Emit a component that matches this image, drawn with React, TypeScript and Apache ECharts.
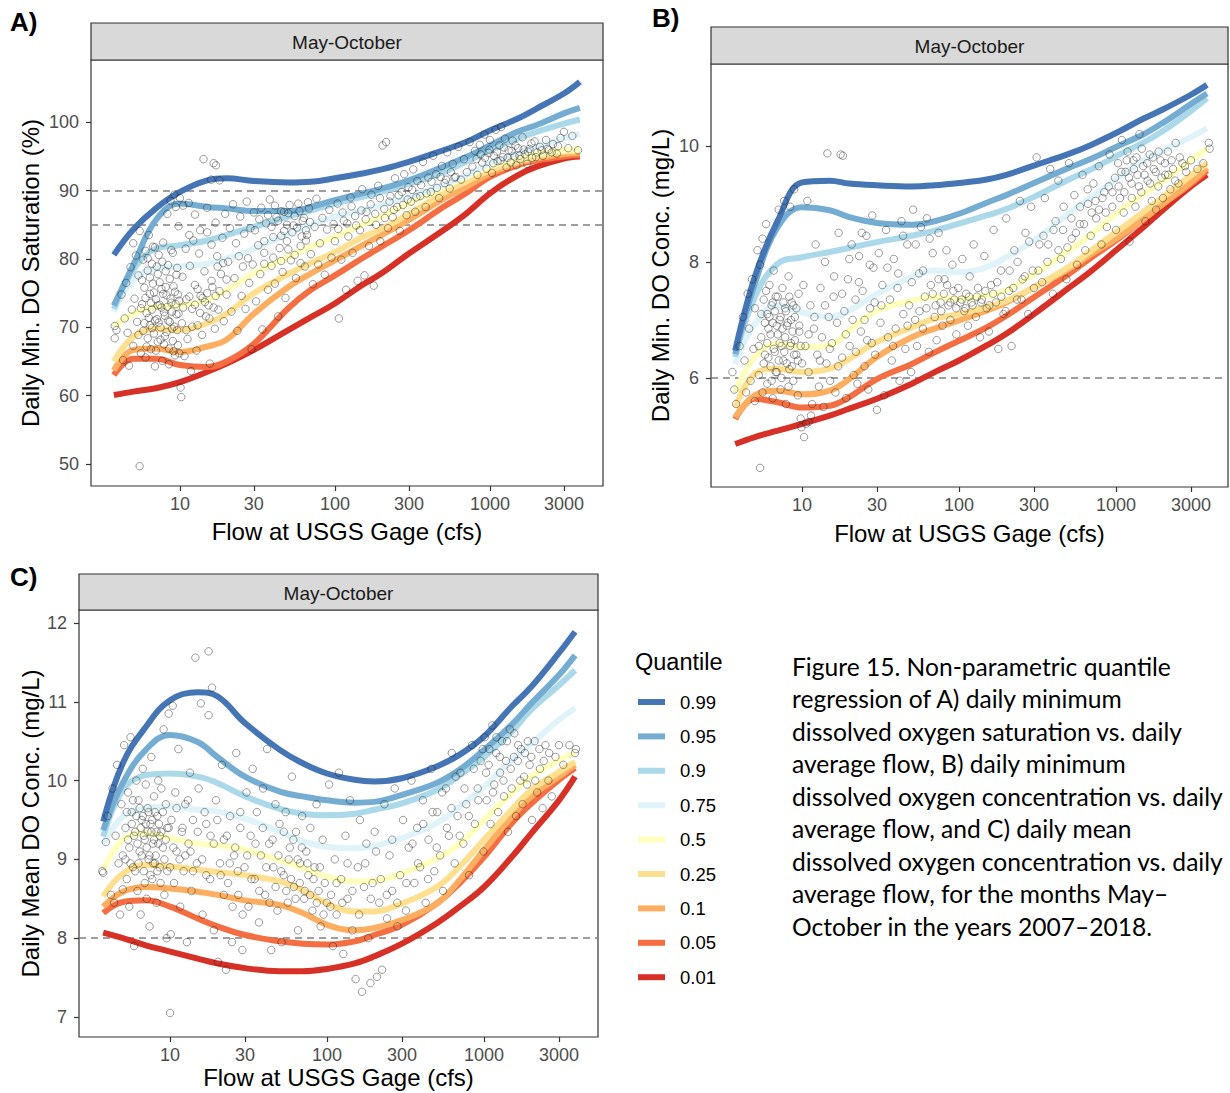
import React, { useEffect, useRef } from 'react';
import * as echarts from 'echarts';

// ---------- data ----------
const FLOW_GRID = [3.75, 5, 7, 10, 15, 20, 30, 50, 70, 100, 150, 200, 300, 500, 700, 1000, 1500, 2000, 3000, 3800];
const QUANTILES = ['0.99', '0.95', '0.9', '0.75', '0.5', '0.25', '0.1', '0.05', '0.01'];
const QUANTILE_COLORS = ['#4575b4', '#74add1', '#abd9e9', '#e0f3f8', '#ffffbf', '#fee090', '#fdae61', '#f46d43', '#d73027'];
const X_TICKS = [10, 30, 100, 300, 1000, 3000];

// Panel A: daily min DO saturation (%)
const A_Q99 = [80.6, 84.3, 87.4, 89.8, 91.5, 91.8, 91.4, 91.2, 91.3, 91.8, 92.5, 93.1, 94.2, 95.9, 97.1, 98.8, 100.5, 102.0, 104.2, 105.9];
const A_Q95 = [73.2, 79.1, 85.7, 88.1, 87.6, 87.4, 87.0, 87.0, 87.6, 88.6, 89.6, 90.3, 91.5, 93.5, 94.9, 96.6, 98.6, 99.6, 101.3, 102.1];
const A_Q90 = [72.7, 78.4, 81.5, 82.0, 82.7, 83.5, 84.7, 86.2, 87.1, 88.1, 89.1, 89.8, 91.0, 92.7, 94.2, 95.9, 97.6, 98.6, 99.8, 100.4];
const A_Q75 = [72.3, 76.9, 78.6, 78.9, 79.3, 80.1, 81.5, 83.7, 85.0, 86.2, 87.1, 87.9, 89.1, 90.8, 92.2, 94.0, 95.4, 96.4, 97.6, 98.3];
const A_Q50 = [70.1, 72.0, 73.0, 73.2, 74.0, 75.4, 77.9, 80.3, 81.8, 83.2, 85.0, 86.2, 88.1, 90.5, 92.0, 93.5, 94.7, 95.4, 95.9, 96.0];
const A_Q25 = [65.0, 68.6, 69.8, 69.6, 70.6, 72.0, 75.0, 77.8, 79.4, 81.0, 83.2, 84.4, 86.6, 89.6, 91.3, 93.0, 94.2, 94.9, 95.7, 95.8];
const A_Q10 = [63.7, 66.7, 66.9, 66.4, 67.2, 68.2, 72.0, 75.9, 77.9, 79.8, 82.0, 83.5, 85.7, 88.8, 90.5, 92.5, 94.0, 94.7, 95.3, 95.5];
const A_Q05 = [63.0, 65.4, 65.4, 64.5, 64.2, 65.0, 67.6, 72.8, 75.5, 77.6, 80.1, 81.8, 84.2, 87.6, 89.6, 92.0, 93.7, 94.4, 95.0, 95.2];
const A_Q01 = [60.1, 60.6, 61.1, 62.0, 63.5, 64.7, 66.7, 69.6, 71.5, 73.5, 76.2, 77.9, 80.8, 84.2, 86.6, 89.6, 92.2, 93.5, 94.7, 95.0];

// Panel B: daily min DO concentration (mg/L)
const B_Q99 = [6.47, 7.74, 8.71, 9.37, 9.40, 9.35, 9.32, 9.30, 9.32, 9.36, 9.42, 9.50, 9.66, 9.86, 10.02, 10.22, 10.47, 10.63, 10.88, 11.05];
const B_Q95 = [6.41, 7.62, 8.60, 8.94, 8.89, 8.77, 8.67, 8.64, 8.70, 8.83, 9.02, 9.15, 9.36, 9.62, 9.78, 9.98, 10.2, 10.4, 10.72, 10.9];
const B_Q90 = [6.36, 7.39, 7.97, 8.08, 8.17, 8.24, 8.34, 8.45, 8.54, 8.66, 8.80, 8.91, 9.12, 9.42, 9.60, 9.82, 10.06, 10.26, 10.6, 10.82];
const B_Q75 = [6.24, 6.93, 7.25, 7.13, 7.05, 7.16, 7.45, 7.74, 7.85, 7.82, 7.91, 8.08, 8.37, 8.83, 9.12, 9.43, 9.75, 9.92, 10.15, 10.3];
const B_Q50 = [5.75, 6.36, 6.59, 6.53, 6.56, 6.82, 7.16, 7.33, 7.39, 7.36, 7.42, 7.51, 7.79, 8.20, 8.48, 8.83, 9.17, 9.40, 9.75, 9.95];
const B_Q25 = [5.49, 6.07, 6.16, 6.10, 6.16, 6.33, 6.62, 6.87, 7.02, 7.10, 7.22, 7.33, 7.56, 7.91, 8.20, 8.51, 8.86, 9.12, 9.49, 9.7];
const B_Q10 = [5.32, 5.70, 5.78, 5.72, 5.78, 5.98, 6.36, 6.70, 6.85, 6.99, 7.16, 7.30, 7.56, 7.88, 8.14, 8.40, 8.74, 9.00, 9.37, 9.62];
const B_Q05 = [5.29, 5.64, 5.58, 5.49, 5.52, 5.67, 5.98, 6.24, 6.44, 6.64, 6.87, 7.07, 7.39, 7.79, 8.08, 8.37, 8.74, 9.00, 9.34, 9.58];
const B_Q01 = [4.86, 4.98, 5.09, 5.21, 5.35, 5.47, 5.64, 5.90, 6.10, 6.30, 6.56, 6.76, 7.10, 7.55, 7.85, 8.2, 8.6, 8.9, 9.3, 9.5];

// Panel C: daily mean DO concentration (mg/L)
const C_Q99 = [9.48, 10.22, 10.68, 11.02, 11.12, 11.07, 10.73, 10.39, 10.22, 10.09, 10.01, 9.99, 10.03, 10.18, 10.33, 10.56, 10.94, 11.19, 11.62, 11.89];
const C_Q95 = [9.37, 9.97, 10.39, 10.58, 10.49, 10.30, 10.05, 9.86, 9.80, 9.75, 9.72, 9.73, 9.82, 9.97, 10.14, 10.39, 10.71, 10.98, 11.34, 11.59];
const C_Q90 = [9.29, 9.88, 10.07, 10.09, 10.05, 9.97, 9.80, 9.64, 9.58, 9.56, 9.58, 9.63, 9.71, 9.88, 10.07, 10.30, 10.62, 10.90, 11.21, 11.40];
const C_Q75 = [9.20, 9.54, 9.65, 9.67, 9.63, 9.61, 9.52, 9.35, 9.23, 9.16, 9.14, 9.17, 9.27, 9.46, 9.67, 9.92, 10.26, 10.47, 10.77, 10.92];
const C_Q50 = [8.87, 9.25, 9.33, 9.27, 9.20, 9.18, 9.12, 8.99, 8.89, 8.78, 8.72, 8.73, 8.82, 9.01, 9.20, 9.50, 9.84, 10.05, 10.26, 10.35];
const C_Q25 = [8.53, 8.82, 8.93, 8.91, 8.87, 8.84, 8.80, 8.72, 8.61, 8.44, 8.34, 8.34, 8.44, 8.65, 8.91, 9.25, 9.63, 9.88, 10.11, 10.24];
const C_Q10 = [8.40, 8.59, 8.65, 8.63, 8.59, 8.55, 8.48, 8.42, 8.32, 8.17, 8.10, 8.13, 8.23, 8.44, 8.74, 9.12, 9.54, 9.80, 10.05, 10.20];
const C_Q05 = [8.32, 8.46, 8.48, 8.40, 8.25, 8.15, 8.04, 7.96, 7.93, 7.92, 7.96, 8.04, 8.17, 8.44, 8.70, 9.03, 9.46, 9.71, 10.01, 10.16];
const C_Q01 = [8.07, 8.00, 7.91, 7.83, 7.74, 7.68, 7.62, 7.58, 7.58, 7.61, 7.68, 7.77, 7.93, 8.19, 8.40, 8.65, 9.03, 9.33, 9.75, 10.05];

// Observations [flow cfs, value]
const A_POINTS = [
  [3.8,70.2],[3.8,68.4],[3.9,69.6],[4.2,74.8],[4.3,65.2],[4.4,71.3],[4.5,76.5],[4.6,69.2],[4.7,64.4],[4.8,78.8],[4.9,72.6],[5.0,67.3],[5.0,82.3],[5.1,74.2],[5.2,80.5],
  [5.3,70.8],[5.4,77.6],[5.5,49.7],[5.5,84.1],[5.6,66.2],[5.7,73.4],[5.8,79.9],[5.8,69.5],[5.9,75.8],[6.0,81.2],[6.0,65.6],[6.1,72.1],[6.2,78.3],[6.2,68.4],[6.3,83.5],[6.4,74.9],[6.4,70.3],[6.5,66.8],[6.6,79.3],[6.6,72.6],[6.7,76.4],[6.8,69.1],[6.9,81.7],[6.9,64.3],[7.0,74.1],[7.1,71.2],[7.2,77.8],[7.2,67.9],[7.3,80.6],[7.4,73.3],[7.5,70.0],[7.6,75.6],[7.7,65.1],[7.8,82.4],[7.9,72.2],[8.0,68.7],[8.1,78.2],[8.2,74.7],[8.3,86.6],[8.4,71.0],[8.5,64.6],[8.6,77.1],[8.7,88.5],[8.8,73.6],[8.9,69.8],[9.0,80.9],[9.1,66.5],[9.2,89.4],[9.3,75.2],[9.4,87.6],[9.5,71.9],[9.6,78.7],[9.7,67.4],[9.8,84.8],[9.9,73.9],[10.0,88.9],
  [10.1,61.2],[10.2,59.8],[10.3,70.6],[10.4,77.4],[10.5,87.8],[10.7,65.8],[10.9,81.5],[11.0,74.1],[11.2,68.3],[11.4,88.2],[11.6,79.0],[11.8,63.6],[12.0,72.7],[12.2,82.7],[12.5,76.2],[12.8,66.6],[13.0,70.3],[13.3,80.8],[13.6,74.6],[13.9,68.9],[14.2,94.6],[14.4,78.2],[14.7,71.6],[15.0,83.9],[15.3,73.2],[15.6,64.7],[15.9,91.6],[16.2,75.9],[16.5,94.0],[16.8,69.8],[17.1,93.7],[17.4,80.4],[17.7,72.6],[18.0,91.5],[18.4,77.8],[18.8,83.1],[19.2,70.9],[19.6,86.6],[20.0,74.8],
  [20.5,79.6],[21,84.5],[21.5,72.3],[22,88.0],[22.5,77.2],[23,82.3],[23.5,69.5],[24,80.4],[24.5,86.2],[25,74.6],[25.5,78.9],[26,83.7],[26.5,72.7],[27,88.4],[27.5,80.1],[28,76.5],[28.5,84.5],[29,66.8],[29.5,79.2],[30,86.8],[31,73.8],[32,82.0],[33,77.8],[33.5,87.5],[34,69.7],[35,80.9],[36,85.2],[37,75.5],[38,88.7],[39,79.0],[40,83.2],[41,76.4],[42,86.1],[43,71.6],[44,81.6],[45,87.0],[46,78.1],[47,84.1],[48,74.3],[49,82.6],
  [50,86.7],[52,79.8],[54,84.9],[56,77.2],[58,88.1],[60,81.9],[62,85.6],[64,78.9],[66,83.5],[68,87.4],[70,80.7],[72,76.3],[74,84.7],[76,88.8],[78,79.2],[80,82.3],[83,86.0],[86,77.7],[89,84.3],[92,87.2],[95,80.2],[98,85.1],
  [100,82.6],[104,88.1],[106,71.3],[110,79.9],[114,85.6],[118,75.5],[122,83.3],[126,89.0],[130,80.9],[135,86.3],[140,76.8],[145,84.2],[150,90.2],[155,77.6],[160,86.9],[166,81.9],[172,89.4],[178,76.1],[184,85.0],[190,90.7],[196,82.6],[203,96.6],[208,87.3],[214,97.1],[220,84.5],[228,89.2],[236,86.1],[244,91.8],[252,87.6],[262,84.1],[270,89.8],[280,92.4],[290,86.4],[298,90.5],
  [310,88.4],[320,93.1],[330,86.9],[340,91.4],[355,89.2],[370,94.2],[385,87.6],[400,91.9],[415,89.8],[430,95.1],[450,92.4],[470,88.9],[490,93.6],[510,91.1],[530,95.6],[550,90.3],[575,93.9],[600,92.0],[625,96.4],[650,91.6],[680,94.6],[710,92.7],[740,97.1],[770,93.5],[800,95.8],[830,92.3],[860,96.7],[890,94.1],[920,98.2],[950,93.2],[980,95.5],
  [1000,97.4],[1030,92.6],[1060,95.1],[1090,98.9],[1120,94.3],[1150,96.6],[1180,99.3],[1210,94.9],[1250,97.6],[1280,93.4],[1320,95.9],[1360,94.1],[1400,97.3],[1440,95.0],[1480,93.7],[1520,96.2],[1570,94.6],[1620,97.8],[1680,95.3],[1740,93.9],[1800,96.1],[1870,94.8],[1940,97.2],[2020,95.6],[2100,96.4],[2200,95.1],[2300,97.4],[2400,95.9],[2550,96.8],[2700,95.4],[2850,97.7],[3000,98.6],[3200,96.2],[3400,98.0],[3700,95.9]
];
const A_POINTS_DENSE = [
  [5.4,68.9],[5.6,72.8],[5.7,76.9],[5.9,70.6],[6.0,74.3],[6.1,67.2],[6.2,80.1],[6.3,71.4],[6.4,77.3],[6.5,73.6],[6.6,69.9],[6.7,81.8],[6.8,75.1],[6.9,71.0],[7.0,66.6],[7.1,78.9],[7.2,73.2],[7.3,70.7],[7.4,76.6],[7.5,68.2],[7.6,72.9],[7.7,79.6],[7.8,74.9],[7.9,67.5],[8.0,71.7],[8.1,75.9],[8.2,69.3],[8.3,73.0],[8.4,79.1],[8.5,66.9],[8.6,70.8],[8.7,74.2],[8.8,81.3],[8.9,72.3],[9.0,68.0],[9.1,76.0],[9.2,70.1],[9.3,65.9],[9.4,73.4],[9.5,77.7],[9.6,69.6],[9.7,74.8],[9.8,72.0],[9.9,66.2],
  [10.5,72.9],[11,69.6],[11.5,74.5],[12,70.1],[12.5,73.3],[13,75.6],[13.5,72.1],[14,74.3],[14.5,73.7],[15,75.0],[15.5,71.3],[16,76.8],[16.5,72.9],[17,74.6],[17.5,78.9],[18,75.3],[19,79.4],[20,77.0],[11.5,83.5],[12.5,86.5],[13.5,84.2],[15,87.5],[16,82.1],[17,85.3],
  [30.5,84.2],[32.5,85.8],[35,82.6],[37,86.4],[39,84.7],[41,87.8],[43,85.6],[45,83.4],[47,86.9],[49,85.0],[51,87.9],[53,83.9],[55,86.3],[57,84.6],[59,87.0],[61,83.3],[63,86.0],[65,84.2],[67,88.3],[69,85.4],[35,79.3],[40,80.2],[45,79.7],[50,81.4],[55,80.6],[60,79.4],[65,82.7],
  [105,84.4],[112,86.8],[120,85.2],[128,87.7],[137,84.9],[148,87.1],[158,85.8],[170,88.0],[182,86.6],[195,88.9],[210,86.0],[225,88.4],[240,87.2],[258,89.3],[275,87.9],[295,88.7],[315,90.1],[335,89.0],[360,90.8],[390,89.6],[420,91.3],[455,90.4],[480,92.0],[520,91.6],[560,92.7],[590,91.9],
  [820,94.6],[870,95.3],[930,94.8],[990,96.0],[1050,94.0],[1110,95.7],[1170,94.4],[1230,96.3],[1300,94.8],[1380,95.8],[1460,96.6],[1550,95.1],[1650,96.0],[1760,95.7],[1850,96.9],[1980,94.9],[2150,95.9],[2350,96.1],[2500,95.6],[2750,96.5]
];

const B_POINTS = [
  [3.6,6.1],[3.7,5.8],[3.8,5.55],[4.0,6.55],[4.2,7.05],[4.3,6.3],[4.4,5.75],[4.5,7.45],[4.6,6.85],[4.7,5.95],[4.8,7.7],[4.9,6.5],[5.0,5.6],[5.0,7.2],
  [5.2,8.2],[5.3,6.05],[5.4,4.45],[5.4,7.95],[5.5,6.7],[5.6,8.4],[5.6,5.75],[5.7,7.35],[5.8,6.4],[5.9,8.65],[6.0,7.1],[6.0,5.9],[6.1,6.85],[6.2,7.6],[6.3,6.2],[6.4,7.25],[6.5,5.65],[6.5,6.95],[6.6,7.85],[6.7,6.45],[6.8,7.4],[6.9,6.1],[7.0,6.75],[7.1,8.9],[7.2,7.0],[7.3,5.8],[7.4,6.55],[7.5,7.55],[7.6,6.3],[7.7,9.05],[7.8,7.2],[7.9,5.55],[8.0,6.9],[8.2,7.75],[8.3,6.15],[8.4,8.95],[8.5,6.6],[8.6,7.3],[8.8,5.95],[8.9,9.25],[9.0,7.05],[9.2,6.4],[9.4,5.7],[9.5,7.45],[9.6,6.8],[9.8,5.3],[10.0,6.25],
  [9.9,5.15],[10.3,4.98],[10.6,5.21],[11.4,5.35],[11.0,5.24],
  [10.2,7.6],[10.5,6.55],[10.8,9.05],[11.0,6.1],[11.3,7.25],[11.6,5.55],[11.9,6.85],[12.2,8.3],[12.5,6.4],[12.8,5.85],[13.1,7.55],[13.4,6.7],[13.7,5.5],[14.0,8.0],[14.3,6.25],[14.5,9.87],[14.8,7.05],[15.1,5.95],[15.5,6.6],[15.9,7.4],[16.3,5.75],[16.7,6.95],[17.1,8.5],[17.6,9.85],[18.0,6.35],[18.2,9.83],[18.6,7.15],[19.1,5.65],[19.6,7.7],[20.1,6.55],[20.7,8.3],[21.3,6.05],[21.9,7.35],[22.5,5.9],[23.1,8.1],[23.7,6.8],[24.3,7.5],[25.0,6.2],[25.7,8.45],[26.4,5.8],[27.1,7.2],[27.8,6.6],[28.5,7.9],[29.2,6.4],[30.0,5.45],
  [30.8,8.15],[31.6,6.95],[32.5,7.6],[33.4,5.7],[34.3,8.55],[35.3,6.7],[36.3,7.35],[37.3,6.3],[38.4,8.05],[39.5,6.85],[40.6,7.55],[41.8,5.95],[43.0,8.7],[44.2,7.1],[45.5,6.5],[46.8,8.3],[48.1,7.25],[49.5,6.1],[51,8.9],[52.5,7.0],[54,6.55],[55.6,7.8],[57.2,8.6],[58.9,6.85],[60.6,7.4],[62.4,8.75],[64.2,6.45],[66.1,7.6],[68,8.15],[70,7.05],[72,6.65],[74.1,8.5],[76.3,7.3],[78.5,6.9],[80.8,7.7],[83.2,8.2],[85.6,7.25],[88.1,7.0],[90.7,7.95],[93.4,7.35],[96.1,6.75],[98.9,7.55],
  [102,7.3],[105,8.05],[108,7.15],[111,7.45],[114,6.9],[117,7.75],[120,7.3],[124,8.3],[128,7.05],[132,7.55],[136,6.7],[140,7.35],[145,8.1],[150,7.2],[155,6.8],[160,7.6],[166,8.55],[172,7.3],[178,6.5],[185,7.85],[192,7.1],[200,8.75],[208,7.5],[216,6.55],[225,8.2],[234,7.35],[244,9.05],[254,7.7],[265,8.5],[276,7.1],[288,8.95],[300,7.55],
  [312,9.8],[325,8.3],[338,7.65],[352,9.1],[366,8.0],[381,9.6],[396,7.45],[412,8.7],[429,9.4],[446,8.05],[464,8.95],[483,7.7],[502,9.7],[522,8.4],[543,9.15],[565,7.95],[588,8.65],[612,9.5],[637,8.2],[663,9.0],[690,8.45],[718,9.35],[747,8.75],[777,9.65],[808,8.3],[841,9.2],[875,8.6],[910,9.85],[947,8.95],[985,9.45],
  [1000,8.55],[1030,9.7],[1060,9.1],[1090,10.1],[1120,8.85],[1150,9.55],[1185,9.9],[1220,8.35],[1255,9.35],[1290,9.75],[1330,8.95],[1370,9.5],[1410,10.2],[1450,9.2],[1490,9.65],[1540,8.7],[1590,9.4],[1640,9.85],[1690,9.05],[1740,9.6],[1800,8.9],[1860,9.3],[1920,9.75],[1990,9.1],[2060,9.5],[2140,9.9],[2220,9.25],[2310,9.6],[2400,10.05],[2500,9.35],[2650,9.7],[2800,9.55],[3000,9.75],[3300,9.6],[3600,9.7],[3900,10.05],[3950,9.95]
];
const B_POINTS_DENSE = [
  [5.3,6.55],[5.5,7.1],[5.7,6.25],[5.8,6.95],[5.9,7.5],[6.0,6.6],[6.1,6.35],[6.2,7.05],[6.3,6.75],[6.4,5.95],[6.5,7.3],[6.6,6.5],[6.7,7.15],[6.8,6.1],[6.9,6.9],[7.0,7.4],[7.1,6.3],[7.2,6.6],[7.3,7.05],[7.4,6.0],[7.5,6.85],[7.6,7.3],[7.7,6.45],[7.8,6.7],[7.9,7.15],[8.0,6.25],[8.1,6.95],[8.2,5.85],[8.3,7.4],[8.4,6.55],[8.5,7.0],[8.6,6.2],[8.7,6.8],[8.8,7.25],[8.9,6.4],[9.0,6.65],[9.2,7.2],[9.4,6.3],[9.6,6.9],[9.8,6.55],
  [11,6.75],[12,7.05],[13,6.3],[14,7.25],[15,6.5],[16,7.75],[17,6.2],[18,7.45],[19,6.75],[20,8.05],[21,7.0],[22,6.45],[23,7.65],[24,8.5],[25,7.0],[26,6.65],[27,7.95],[28,8.8],[29,7.3],
  [32,7.25],[35,7.9],[38,6.55],[41,7.8],[44,8.45],[47,6.9],[50,7.65],[53,8.3],[56,7.15],[59,7.85],[62,7.2],[65,8.4],[68,7.45],[71,7.25],[74,7.7],[77,7.15],[80,7.45],[84,7.6],[88,7.3],[92,7.5],[96,7.2],
  [104,7.35],[110,7.2],[116,7.4],[122,7.25],[130,7.4],[138,7.3],[147,7.5],[156,7.25],[165,7.45],[175,7.65],[186,7.4],[198,7.15],[210,7.85],[222,7.55],[236,8.0],[250,7.35],[262,7.75],[280,8.35],[295,7.85],
  [320,7.85],[345,8.45],[370,8.3],[400,8.55],[430,8.2],[460,8.55],[490,8.25],[520,8.75],[555,8.5],[590,8.95],[625,8.65],[660,9.25],[700,8.85],[740,9.05],[780,8.9],[820,9.1],[860,8.85],[900,9.3],[950,9.2],
  [1040,9.3],[1080,9.55],[1130,9.2],[1170,9.75],[1210,9.45],[1260,9.1],[1300,9.6],[1350,9.8],[1400,9.3],[1460,9.95],[1520,9.5],[1580,9.7],[1650,9.35],[1720,9.8],[1790,9.55],[1870,9.9],[1950,9.45],[2050,9.7],[2150,9.5],[2260,9.75],[2380,9.4],[2550,9.8],[2750,9.65]
];

const C_POINTS = [
  [3.7,8.85],[3.75,8.83],[3.9,9.22],[4.0,9.55],[4.2,8.55],[4.3,9.9],[4.4,8.45],[4.5,9.3],[4.6,10.2],[4.7,8.95],[4.8,8.3],[4.9,9.7],[5.0,9.05],[5.0,8.62],
  [5.1,10.45],[5.2,9.4],[5.3,8.75],[5.4,9.85],[5.5,8.4],[5.5,9.15],[5.6,10.55],[5.7,9.6],[5.8,8.9],[5.9,7.9],[6.0,9.35],[6.1,10.0],[6.2,8.6],[6.3,9.75],[6.4,9.1],[6.5,8.3],[6.6,9.5],[6.7,10.15],[6.8,8.85],[6.9,9.25],[7.0,9.95],[7.1,8.5],[7.2,9.65],[7.3,9.0],[7.4,8.15],[7.5,9.45],[7.6,10.3],[7.7,8.75],[7.8,9.2],[7.9,9.8],[8.0,8.95],[8.2,8.45],[8.3,9.55],[8.4,10.0],[8.6,9.3],[8.7,8.7],[8.8,9.9],[9.0,9.15],[9.1,10.65],[9.2,8.55],[9.4,9.7],[9.5,8.0],[9.6,9.4],[9.8,10.85],[10.0,8.9],
  [10.0,7.05],[10.1,8.05],[10.2,9.5],[10.4,10.95],[10.6,8.7],[10.8,9.85],[11.0,9.1],[11.3,10.4],[11.6,8.4],[11.9,9.35],[12.2,8.85],[12.5,9.7],[12.8,7.95],[13.1,9.2],[13.4,10.1],[13.7,8.6],[14.0,9.5],[14.5,11.56],[14.8,8.95],[15.2,9.9],[15.7,10.98],[16.1,8.3],[16.6,9.6],[17.0,8.8],[17.6,11.64],[17.6,10.83],[18.1,9.3],[18.5,11.18],[19.0,8.1],[19.6,9.75],[20.2,7.7],[20.8,8.95],[21.4,10.2],[22.0,9.25],[22.7,7.6],[23.4,8.7],[24.1,9.55],[24.8,7.95],[25.6,9.05],[26.4,10.35],[27.2,8.55],[28.0,9.4],[28.9,7.85],[29.8,8.9],
  [30.7,9.85],[31.6,8.4],[32.6,9.3],[33.6,10.15],[34.6,8.75],[35.7,9.6],[36.8,8.2],[37.9,9.05],[39.1,9.9],[40.3,8.55],[41.5,10.4],[42.8,9.2],[44.1,7.85],[45.5,8.9],[46.9,9.7],[48.3,8.35],[49.8,9.45],[51.3,7.95],[52.9,8.8],[54.5,9.6],[56.2,8.45],[57.9,9.15],[59.7,10.05],[61.5,8.65],[63.4,9.35],[65.3,8.1],[67.3,8.95],[69.4,9.55],[71.5,8.5],[73.7,9.1],[76.0,8.8],[78.3,9.4],[80.7,8.35],[83.2,8.9],[85.7,9.7],[88.3,8.6],[91.0,8.15],[93.8,9.25],[96.7,8.7],[99.6,8.45],
  [103,9.95],[106,8.55],[109,7.9],[112,9.0],[115,8.3],[119,10.1],[123,8.75],[127,7.8],[131,9.3],[135,8.5],[140,9.75],[145,8.1],[152,7.48],[157,8.9],[162,9.5],[167,7.32],[172,8.65],[178,9.2],[183,8.0],[189,7.43],[195,8.7],[201,9.35],[208,7.51],[215,8.45],[224,7.6],[232,9.7],[241,8.25],[250,9.05],[260,8.6],[270,9.9],[281,8.15],[292,8.8],
  [305,9.5],[318,8.35],[331,9.15],[345,10.0],[360,8.7],[375,9.4],[391,8.9],[408,9.75],[425,8.45],[443,9.25],[462,10.15],[482,8.85],[503,9.6],[525,9.05],[548,8.6],[572,9.9],[597,9.3],[623,10.35],[650,8.95],[678,9.55],[707,10.1],[738,9.2],[770,9.7],[803,8.8],[838,10.45],[874,9.45],[912,9.9],[951,10.25],[992,9.1],
  [1010,10.55],[1040,9.75],[1070,10.2],[1100,9.45],[1130,10.7],[1160,9.95],[1195,10.35],[1230,9.6],[1265,10.1],[1300,10.5],[1340,9.8],[1380,10.25],[1420,9.35],[1460,10.65],[1500,9.9],[1550,10.3],[1600,9.55],[1650,10.45],[1700,10.0],[1760,9.7],[1820,10.35],[1880,9.95],[1950,10.2],[2020,9.5],[2100,10.5],[2180,9.85],[2270,10.15],[2360,9.65],[2460,10.45],[2570,10.0],[2700,9.8],[2850,10.3],[3000,10.45],[3200,10.2],[3500,10.45],[3800,10.35],[3850,10.4]
];
const C_POINTS_DENSE = [
  [5.2,9.0],[5.3,9.6],[5.4,9.25],[5.6,8.95],[5.7,9.45],[5.8,9.75],[5.9,9.3],[6.0,8.85],[6.1,9.55],[6.2,9.2],[6.3,8.95],[6.4,9.65],[6.5,9.4],[6.6,9.05],[6.7,9.55],[6.8,9.3],[6.9,8.7],[7.0,9.45],[7.1,9.15],[7.2,9.35],[7.3,9.6],[7.4,9.05],[7.5,8.8],[7.6,9.35],[7.7,9.5],[7.8,8.95],[7.9,9.25],[8.0,9.6],[8.1,9.05],[8.2,9.35],[8.3,8.85],[8.4,9.2],[8.5,9.45],[8.6,8.9],[8.8,9.35],[9.0,9.6],[9.2,9.0],[9.4,9.25],[9.6,8.85],[9.8,9.4],
  [10.5,9.15],[11.0,9.65],[11.5,9.0],[12.0,9.4],[12.5,9.05],[13.0,9.75],[13.5,9.1],[14.0,8.85],[15.0,9.35],[16.0,9.0],[17.0,9.45],[18.0,8.75],[19.0,9.2],[20.0,9.5],[21.0,8.8],[22.0,8.55],[23.0,9.3],[24.0,8.95],[25.0,8.4],[26.0,9.15],[27.0,8.85],[28.0,9.6],[29.0,8.3],
  [31,9.05],[33,8.75],[35,9.2],[37,8.6],[39,9.4],[41,8.9],[43,8.45],[45,9.25],[47,8.65],[49,9.05],[51,8.85],[53,9.35],[55,8.6],[57,9.0],[59,8.75],[61,9.25],[63,8.5],[65,9.0],[67,8.7],[69,9.15],[72,8.6],[75,8.95],[78,8.55],[82,8.75],[86,8.45],[90,8.9],[95,8.3],
  [105,8.4],[115,8.7],[125,8.45],[135,8.95],[145,8.6],[160,8.3],[175,8.95],[190,8.5],[205,9.1],[220,8.75],[240,8.55],[260,9.25],[280,8.45],
  [320,8.7],[350,9.2],[380,8.95],[410,9.45],[440,8.75],[470,9.6],[500,9.15],[540,9.85],[580,9.4],[620,9.65],[660,10.05],[700,9.3],[750,9.9],[800,9.55],[860,10.15],[920,9.75],[980,10.4],
  [1030,10.1],[1080,10.4],[1140,9.85],[1200,10.55],[1260,10.3],[1330,10.0],[1400,10.5],[1480,10.15],[1560,10.6],[1640,10.25],[1720,10.4],[1800,10.05],[1900,10.5],[2000,10.3],[2120,10.0],[2250,10.4],[2400,10.25],[2600,10.35]
];

const A_Y_TICKS = [50, 60, 70, 80, 90, 100];
const B_Y_TICKS = [6, 8, 10];
const C_Y_TICKS = [7, 8, 9, 10, 11, 12];
const A_HLINES = [90, 85];
const B_HLINES = [6];
const C_HLINES = [8];

const CAPTION_LINES = [
  'Figure 15. Non-parametric quantile',
  'regression of A) daily minimum',
  'dissolved oxygen saturation vs. daily',
  'average flow, B) daily minimum',
  'dissolved oxygen concentration vs. daily',
  'average flow, and C) daily mean',
  'dissolved oxygen concentration vs. daily',
  'average flow, for the months May\u2013',
  'October in the years 2007\u20132018.'
];

// ---------- layout ----------
const FONT = 'Arial';
const PANELS = [
  { label: 'A)', labelPos: [10, 22], strip: [91, 23, 512, 37], grid: [91, 60, 512, 426], xRange: [2.67, 5360], yRange: [46.8, 109.1], yTicks: A_Y_TICKS, yName: 'Daily Min. DO Saturation (%)', xGap: 33, yGap: 49, curves: [A_Q99, A_Q95, A_Q90, A_Q75, A_Q50, A_Q25, A_Q10, A_Q05, A_Q01], points: A_POINTS.concat(A_POINTS_DENSE), hlines: A_HLINES },
  { label: 'B)', labelPos: [652, 18], strip: [711, 27, 517, 37], grid: [711, 64, 517, 423], xRange: [2.63, 5170], yRange: [4.12, 11.41], yTicks: B_Y_TICKS, yName: 'Daily Min. DO Conc. (mg/L)', xGap: 34, yGap: 39, curves: [B_Q99, B_Q95, B_Q90, B_Q75, B_Q50, B_Q25, B_Q10, B_Q05, B_Q01], points: B_POINTS.concat(B_POINTS_DENSE), hlines: B_HLINES },
  { label: 'C)', labelPos: [10, 577], strip: [79, 574, 519, 36], grid: [79, 610, 519, 427], xRange: [2.63, 5320], yRange: [6.746, 12.165], yTicks: C_Y_TICKS, yName: 'Daily Mean DO Conc. (mg/L)', xGap: 28, yGap: 37, curves: [C_Q99, C_Q95, C_Q90, C_Q75, C_Q50, C_Q25, C_Q10, C_Q05, C_Q01], points: C_POINTS.concat(C_POINTS_DENSE), hlines: C_HLINES }
];

function buildOption() {
  const grid: any[] = [];
  const xAxis: any[] = [];
  const yAxis: any[] = [];
  const series: any[] = [];
  const graphic: any[] = [];
  const xTickLogs = X_TICKS.map((t) => Math.log10(t));

  PANELS.forEach((p, pi) => {
    grid.push({ left: p.grid[0], top: p.grid[1], width: p.grid[2], height: p.grid[3], show: true, borderColor: '#333333', borderWidth: 1.2, backgroundColor: 'transparent' });
    xAxis.push({
      type: 'value', gridIndex: pi, min: Math.log10(p.xRange[0]), max: Math.log10(p.xRange[1]),
      name: 'Flow at USGS Gage (cfs)', nameLocation: 'middle', nameGap: p.xGap,
      nameTextStyle: { fontSize: 24, color: '#000', fontFamily: FONT },
      axisLine: { show: false },
      axisTick: { show: true, length: 5, customValues: xTickLogs, lineStyle: { color: '#333', width: 1.2 } },
      axisLabel: { customValues: xTickLogs, margin: 9, fontSize: 18, color: '#4d4d4d', fontFamily: FONT, formatter: (v: number) => String(Math.round(Math.pow(10, v))) },
      splitLine: { show: false }
    });
    yAxis.push({
      type: 'value', gridIndex: pi, min: p.yRange[0], max: p.yRange[1],
      name: p.yName, nameLocation: 'middle', nameGap: p.yGap,
      nameTextStyle: { fontSize: 24, color: '#000', fontFamily: FONT },
      axisLine: { show: false },
      axisTick: { show: true, length: 5, customValues: p.yTicks, lineStyle: { color: '#333', width: 1.2 } },
      axisLabel: { customValues: p.yTicks, margin: 12, fontSize: 18, color: '#4d4d4d', fontFamily: FONT },
      splitLine: { show: false }
    });
    // quantile curves: draw 0.01 first, 0.99 last
    for (let qi = QUANTILES.length - 1; qi >= 0; qi--) {
      series.push({
        type: 'line', name: QUANTILES[qi], xAxisIndex: pi, yAxisIndex: pi,
        data: FLOW_GRID.map((f, i) => [Math.log10(f), p.curves[qi][i]]),
        smooth: 0.4, showSymbol: false, silent: true, z: 2,
        lineStyle: { width: 6, color: QUANTILE_COLORS[qi], cap: 'butt' }
      });
    }
    series.push({
      type: 'scatter', name: 'obs' + pi, xAxisIndex: pi, yAxisIndex: pi, z: 3, silent: true,
      data: p.points.map(([f, v]) => [Math.log10(f), v]),
      symbol: 'circle', symbolSize: 7.5,
      itemStyle: { color: 'rgba(0,0,0,0)', borderColor: 'rgba(30,30,30,0.62)', borderWidth: 0.9 },
      markLine: {
        silent: true, z: 1, symbol: ['none', 'none'], label: { show: false },
        lineStyle: { type: [7, 5], color: '#808080', width: 1.6 },
        data: p.hlines.map((h) => ({ yAxis: h }))
      }
    });
    graphic.push({ type: 'rect', shape: { x: p.strip[0], y: p.strip[1], width: p.strip[2], height: p.strip[3] }, style: { fill: '#d9d9d9', stroke: '#333333', lineWidth: 1.2 }, z: 10 });
    graphic.push({ type: 'text', x: p.strip[0] + p.strip[2] / 2, y: p.strip[1] + p.strip[3] / 2 + 1, style: { text: 'May-October', fontSize: 19, fontFamily: FONT, fill: '#1a1a1a', textAlign: 'center', textVerticalAlign: 'middle' }, z: 11 });
    graphic.push({ type: 'text', x: p.labelPos[0], y: p.labelPos[1], style: { text: p.label, fontSize: 26, fontWeight: 'bold', fontFamily: FONT, fill: '#000', textAlign: 'left', textVerticalAlign: 'middle' }, z: 11 });
  });

  // legend
  graphic.push({ type: 'text', x: 635, y: 662, style: { text: 'Quantile', fontSize: 23.5, fontFamily: FONT, fill: '#000', textAlign: 'left', textVerticalAlign: 'middle' } });
  QUANTILES.forEach((q, i) => {
    const y = 702 + i * 34.4;
    graphic.push({ type: 'line', shape: { x1: 638, y1: y, x2: 665, y2: y }, style: { stroke: QUANTILE_COLORS[i], lineWidth: 6 } });
    graphic.push({ type: 'text', x: 680, y: y, style: { text: q, fontSize: 18.5, fontFamily: FONT, fill: '#000', textAlign: 'left', textVerticalAlign: 'middle' } });
  });

  // caption
  CAPTION_LINES.forEach((line, i) => {
    graphic.push({ type: 'text', x: 792, y: 666 + i * 32.5, style: { text: line, fontSize: 24.6, fontFamily: 'Lato', fill: '#000', textAlign: 'left', textVerticalAlign: 'middle' } });
  });

  return { animation: false, backgroundColor: '#ffffff', grid, xAxis, yAxis, series, graphic };
}

export default function App() {
  const ref = useRef<HTMLDivElement>(null);
  useEffect(() => {
    if (!ref.current) return;
    const chart = echarts.init(ref.current, undefined, { renderer: 'svg' });
    chart.setOption(buildOption() as any);
    return () => chart.dispose();
  }, []);
  return <div ref={ref} style={{ position: 'absolute', left: 0, top: 0, width: 1230, height: 1093 }} />;
}
